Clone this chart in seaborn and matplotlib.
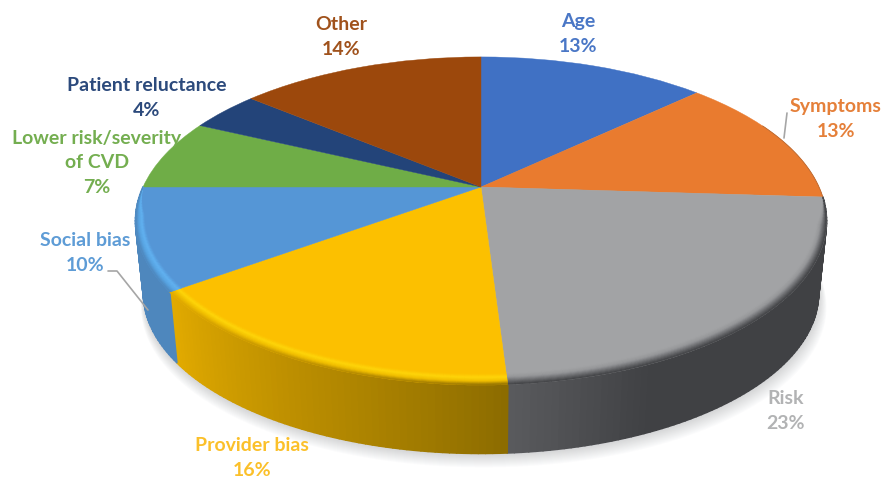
import numpy as np
import matplotlib
matplotlib.use("Agg")
import matplotlib.pyplot as plt
import matplotlib.transforms as mtransforms
from matplotlib.collections import PolyCollection
from matplotlib.colors import to_rgb
import seaborn as sns

# Causes and their shares of the total, in percent
causes = ["Age", "Symptoms", "Risk", "Provider bias", "Social bias",
          "Lower risk/severity\nof CVD", "Patient reluctance", "Other"]
shares = [13, 13, 23, 16, 10, 7, 4, 14]
slice_colors = ["#4071C4", "#E97B2F", "#A2A3A5", "#FCC000", "#5596D6",
                "#6FAD47", "#234479", "#9C480C"]
text_colors = ["#4A77C6", "#E5803A", "#B2B3B4", "#FBC02A", "#5E9CD6",
               "#74AE50", "#2C4A7C", "#A0521C"]
label_xy = [(578, 34), (836, 119), (786, 411), (252, 458), (85, 253),
            (97, 163), (147, 98), (341, 37)]

# Perspective view of the disc
CX, CY, RX, RY, TILT = 481, 187, 338, 157, 0.207
BASE_CY, BASE_SCALE = 260, 0.977
BEVEL = 0.045


class DiscView(mtransforms.Transform):
    """Projects the unit-circle plane of the pie onto the tilted disc top."""
    input_dims = 2
    output_dims = 2

    def transform_non_affine(self, values):
        xy = np.asarray(values, dtype=float)
        w = 1 + TILT * xy[:, 1]
        return np.column_stack([CX + RX * xy[:, 0] / w, CY - RY * xy[:, 1] / w])


def top_point(theta, radius=1.0):
    t = np.radians(theta)
    x, y = radius * np.sin(t), radius * np.cos(t)
    w = 1 + TILT * y
    return np.column_stack([CX + RX * x / w, CY - RY * y / w])


def base_rim(theta):
    t = np.radians(theta)
    w = 1 + TILT * np.cos(t)
    return np.column_stack([CX + BASE_SCALE * RX * np.sin(t) / w,
                            BASE_CY - BASE_SCALE * RY * np.cos(t) / w])


def mix(c0, c1, t):
    return tuple((1 - t) * a + t * b for a, b in zip(to_rgb(c0), to_rgb(c1)))


def wall_color(index, frac):
    """Shade of the outer wall; frac runs clockwise across the slice."""
    if index == 2:
        return mix("#404144", "#5A5B5E", max(0.0, (frac - 0.76) / 0.24))
    if index == 3:
        return mix("#8B6B00", "#E2AA00", frac ** 0.9)
    if index == 4:
        return to_rgb("#4E87BD")
    return to_rgb(slice_colors[index])


def bevel_stops(index):
    if index == 2:
        return [slice_colors[2], "#96979A", "#6A6B6E", "#404144"]
    if index == 3:
        return [slice_colors[3], "#FFD60A", "#F0BE00", None]
    if index == 4:
        return [slice_colors[4], "#62B3F2", "#58A4E2", None]
    return None


sns.set_theme(style="white")
plt.rcParams["font.family"] = ["Lato", "DejaVu Sans"]
palette = sns.color_palette(slice_colors)

fig = plt.figure(figsize=(8.86, 4.8), dpi=100, facecolor="white")
ax = fig.add_axes([0, 0, 1, 1])

wedges, _ = ax.pie(shares, colors=palette, startangle=90, counterclock=False,
                   wedgeprops={"linewidth": 0.3})
view = DiscView() + ax.transData
for wedge, color in zip(wedges, palette):
    wedge.set_transform(view)
    wedge.set_edgecolor(color)
    wedge.set_zorder(3)

ax.set_aspect("auto")
ax.set_xlim(0, 886)
ax.set_ylim(480, 0)
ax.axis("off")

# Slice limits, clockwise from twelve o'clock
edges = np.concatenate([[0], np.cumsum(shares)]) * 3.6

# Soft shadow under the disc
rim_angles = np.linspace(0, 360, 241)
base_outline = base_rim(rim_angles)
for k in range(1, 15):
    outline = base_outline.copy()
    outline[:, 0] = CX + (outline[:, 0] - CX) * (1 + 0.0011 * k) + 0.2 * k
    outline[:, 1] += 1.0 * k
    ax.add_collection(PolyCollection([outline], facecolors=(0.55, 0.56, 0.58, 0.028),
                                     edgecolors="none", zorder=1))

# Outer wall, one thin quad per angular step
wall_quads, wall_fill = [], []
for i in range(2, 5):
    start, stop = edges[i], edges[i + 1]
    steps = np.linspace(start, stop, int(stop - start) + 2)
    top, base = top_point(steps), base_rim(steps)
    for j in range(len(steps) - 1):
        wall_quads.append([top[j], top[j + 1], base[j + 1], base[j]])
        frac = (0.5 * (steps[j] + steps[j + 1]) - start) / (stop - start)
        wall_fill.append(wall_color(i, frac))
ax.add_collection(PolyCollection(wall_quads, facecolors=wall_fill, edgecolors=wall_fill,
                                 linewidths=1.2, zorder=2))

# Rounded top edge along the front half of the disc
bevel_quads, bevel_fill = [], []
levels = np.linspace(0, 1, 13)
front_start, front_stop = edges[2], edges[5]
for i in range(2, 5):
    stops = bevel_stops(i)
    start, stop = edges[i], edges[i + 1]
    steps = np.linspace(start, stop, int(stop - start) + 2)
    taper = np.clip(np.minimum(steps - front_start, front_stop - steps) / 10, 0, 1)
    width = BEVEL * (0.45 + 0.55 * np.abs(np.cos(np.radians(steps)))) * taper
    for j in range(len(steps) - 1):
        frac = (0.5 * (steps[j] + steps[j + 1]) - start) / (stop - start)
        ramp = [wall_color(i, frac) if s is None else to_rgb(s) for s in stops]
        for n in range(len(levels) - 1):
            a, b = levels[n], levels[n + 1]
            pair = steps[j:j + 2]
            inner = top_point(pair, 1 - width[j:j + 2] * (1 - a))
            outer = top_point(pair, 1 - width[j:j + 2] * (1 - b))
            pos = 0.5 * (a + b) * (len(ramp) - 1)
            lo = min(int(pos), len(ramp) - 2)
            bevel_quads.append([inner[0], inner[1], outer[1], outer[0]])
            bevel_fill.append(mix(ramp[lo], ramp[lo + 1], pos - lo))
ax.add_collection(PolyCollection(bevel_quads, facecolors=bevel_fill, edgecolors=bevel_fill,
                                 linewidths=0.4, zorder=4))

# Thin dark line along the back right of the rim
ax.plot(*top_point(np.linspace(65, edges[2], 30)).T, color="#B9672F", lw=0.6, zorder=4)

# Leader lines
ax.plot([787, 784], [113, 138], color="#A6A6A6", lw=1.2, zorder=5)
ax.plot([108, 117, 148], [271, 271, 310], color="#A6A6A6", lw=1.2, zorder=5)

# Labels
for name, share, (x, y), color in zip(causes, shares, label_xy, text_colors):
    ax.text(x, y, f"{name}\n{share}%", color=color, ha="center", va="center",
            fontsize=14, fontweight="bold", linespacing=1.55, zorder=6)

fig.savefig("out.png", dpi=100, facecolor="white")
